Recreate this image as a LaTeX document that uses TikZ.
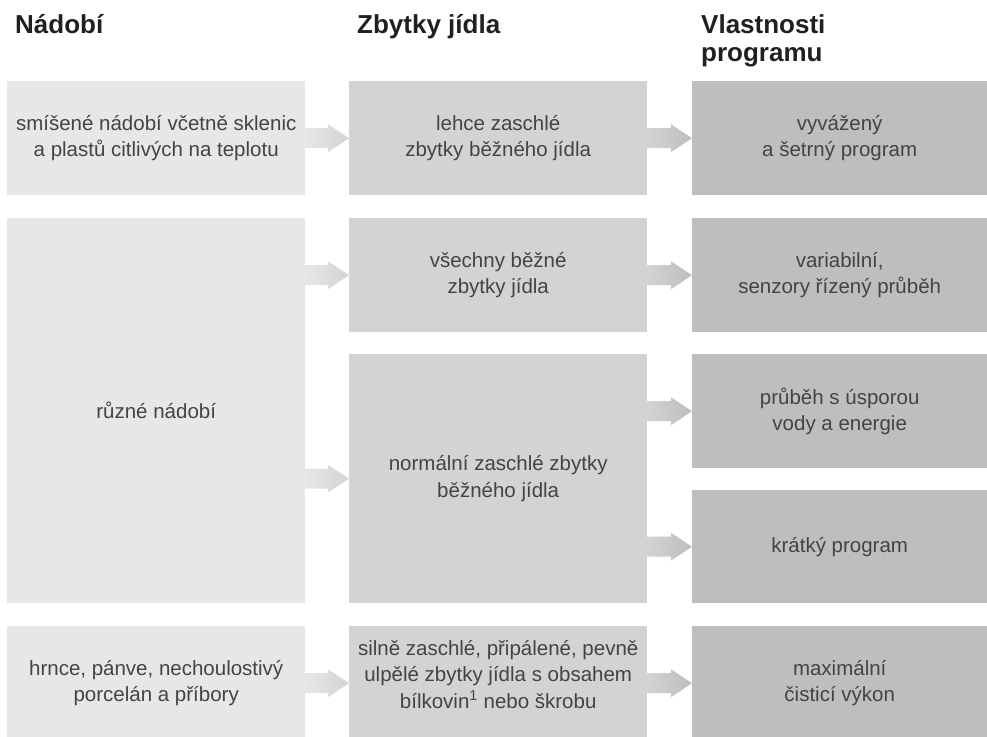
\documentclass[tikz,border=0pt]{standalone}
\usepackage{fontspec}
\setmainfont{Liberation Sans}
\usetikzlibrary{positioning, calc}
\definecolor{BoxLight}{RGB}{230,231,232}
\definecolor{BoxMid}{RGB}{209,211,212}
\definecolor{BoxDark}{RGB}{188,190,192}
\definecolor{TextGray}{RGB}{68,67,69}
\definecolor{HeadBlack}{RGB}{35,31,32}

% shaded block arrow from the right edge of #1 to the middle of #2's left edge
\newcommand{\flowarrow}[4]{%
  \path[left color=#3, right color=#4]
    ($(#1.east |- #2.west)+(0,-10)$) -- ($(#2.west)+(-21,-10)$) -- ($(#2.west)+(-21,-14)$)
    -- (#2.west) -- ($(#2.west)+(-21,14)$) -- ($(#2.west)+(-21,10)$)
    -- ($(#1.east |- #2.west)+(0,10)$) -- cycle;
}

\begin{document}
\begin{tikzpicture}[x=1pt, y=-1pt,
    cell/.style={anchor=north west, inner sep=0pt, align=center, text=TextGray,
      font=\fontsize{20.5}{26.5}\selectfont},
    dish/.style={cell, fill=BoxLight, minimum width=298pt},
    soil/.style={cell, fill=BoxMid, minimum width=298pt},
    prog/.style={cell, fill=BoxDark, minimum width=295pt},
    head/.style={anchor=north west, inner sep=0pt, align=left, text=HeadBlack,
      font=\fontsize{26}{28}\bfseries\selectfont}]
  \useasboundingbox (0,0) rectangle (987,736);

  \node[head] (hdish) at (15,14) {Nádobí};
  \node[head] (hsoil) at (357,14) {Zbytky jídla};
  \node[head] (hprog) at (701,14) {Vlastnosti\\programu};

  \node[dish, minimum height=114pt] (mixed) at (7,81) {smíšené nádobí včetně sklenic\\a plastů citlivých na teplotu};
  \node[dish, minimum height=385pt] (various) at (7,218) {různé nádobí};
  \node[dish, minimum height=114pt] (pots) at (7,626) {hrnce, pánve, nechoulostivý\\porcelán a příbory};

  \node[soil, minimum height=114pt] (light) at (349,81) {lehce zaschlé\\zbytky běžného jídla};
  \node[soil, minimum height=114pt] (common) at (349,218) {všechny běžné\\zbytky jídla};
  \node[soil, minimum height=249pt] (normal) at (349,354) {normální zaschlé zbytky\\běžného jídla};
  \node[soil, minimum height=114pt, text depth=18pt] (heavy) at (349,626) {silně zaschlé, připálené, pevně\\ulpělé zbytky jídla s obsahem\\bílkovin\textsuperscript{1} nebo škrobu};

  \node[prog, minimum height=114pt] (gentle) at (692,81) {vyvážený\\a šetrný program};
  \node[prog, minimum height=114pt] (sensor) at (692,218) {variabilní,\\senzory řízený průběh};
  \node[prog, minimum height=114pt] (eco) at (692,354) {průběh s úsporou\\vody a energie};
  \node[prog, minimum height=113pt] (quick) at (692,490) {krátký program};
  \node[prog, minimum height=114pt] (intensive) at (692,626) {maximální\\čisticí výkon};

  \flowarrow{mixed}{light}{BoxLight}{BoxMid}
  \flowarrow{various}{common}{BoxLight}{BoxMid}
  \flowarrow{various}{normal}{BoxLight}{BoxMid}
  \flowarrow{pots}{heavy}{BoxLight}{BoxMid}
  \flowarrow{light}{gentle}{BoxMid}{BoxDark}
  \flowarrow{common}{sensor}{BoxMid}{BoxDark}
  \flowarrow{normal}{eco}{BoxMid}{BoxDark}
  \flowarrow{normal}{quick}{BoxMid}{BoxDark}
  \flowarrow{heavy}{intensive}{BoxMid}{BoxDark}
\end{tikzpicture}
\end{document}
